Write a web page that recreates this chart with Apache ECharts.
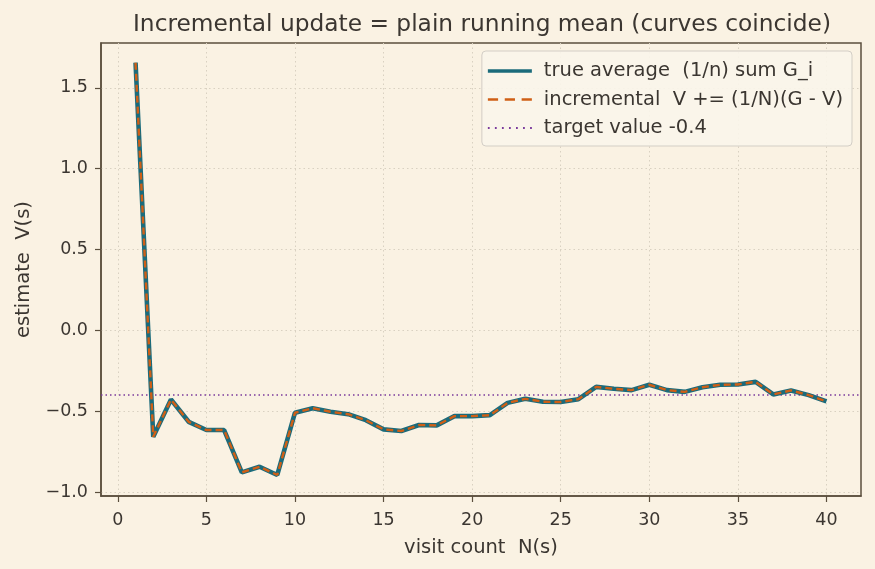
<!DOCTYPE html>
<html>
<head>
<meta charset="utf-8">
<script src="https://cdn.jsdelivr.net/npm/echarts@6/dist/echarts.min.js"></script>
<style>
html,body{margin:0;padding:0;background:#faf2e3;}
#c{width:875px;height:569px;}
</style>
</head>
<body>
<div id="c"></div>
<script>
var visits = [1,2,3,4,5,6,7,8,9,10,11,12,13,14,15,16,17,18,19,20,21,22,23,24,25,26,27,28,29,30,31,32,33,34,35,36,37,38,39,40];
var trueAverage = [1.655,-0.659,-0.428,-0.566,-0.617,-0.617,-0.879,-0.844,-0.895,-0.510,-0.482,-0.504,-0.519,-0.556,-0.613,-0.623,-0.586,-0.588,-0.531,-0.531,-0.525,-0.449,-0.424,-0.442,-0.444,-0.426,-0.350,-0.362,-0.370,-0.337,-0.370,-0.381,-0.352,-0.337,-0.335,-0.319,-0.397,-0.372,-0.401,-0.440];
var incremental = trueAverage.slice();
var targetValue = -0.4;
var xTicks = [0,5,10,15,20,25,30,35,40];
var yTicks = [-1.0,-0.5,0.0,0.5,1.0,1.5];

var FONT = 'DejaVu Sans';
var TXT = '#3b3631';
var SPINE = '#5b4f3e';
var GRIDC = '#d9d1c1';
var C_TRUE = '#1b6b7b', C_INC = '#cf5f16', C_TGT = '#7a3a9c';

function pairs(xs, ys){ return xs.map(function(x,i){ return [x, ys[i]]; }); }

var chart = echarts.init(document.getElementById('c'), null, {renderer:'canvas'});
chart.setOption({
  backgroundColor: '#faf2e3',
  animation: false,
  textStyle: {fontFamily: FONT, color: TXT},
  title: {
    text: 'Incremental update = plain running mean (curves coincide)',
    left: 477, top: 8, textAlign: 'center',
    textStyle: {fontFamily: FONT, fontSize: 23.3, fontWeight: 'normal', color: TXT}
  },
  grid: {left: 101, right: 14, top: 43, bottom: 73, show: true, borderColor: SPINE, borderWidth: 1.5, backgroundColor: 'transparent', containLabel: false, outerBoundsMode: 'none'},
  legend: {
    orient: 'vertical', right: 23, top: 51,
    padding: [10, 9, 8, 6],
    itemGap: 8.5, itemWidth: 44, itemHeight: 20,
    backgroundColor: 'rgba(250,245,234,0.9)',
    borderColor: '#d3cec6', borderWidth: 1, borderRadius: 4,
    textStyle: {fontFamily: FONT, fontSize: 19.5, color: TXT, lineHeight: 20, padding: [0,0,0,7]},
    data: [
      {name: 'true average  (1/n) sum G_i', icon: 'path://M0,0 L44,0 L44,3.5 L0,3.5 Z', itemStyle: {color: C_TRUE}},
      {name: 'incremental  V += (1/N)(G - V)', icon: 'path://M0,0 h10 v2.2 h-10 Z M16.5,0 h10 v2.2 h-10 Z M33,0 h10 v2.2 h-10 Z', itemStyle: {color: C_INC}},
      {name: 'target value -0.4', icon: 'path://M0,0 h1.6 v1.6 h-1.6 Z M6.3,0 h1.6 v1.6 h-1.6 Z M12.6,0 h1.6 v1.6 h-1.6 Z M18.9,0 h1.6 v1.6 h-1.6 Z M25.2,0 h1.6 v1.6 h-1.6 Z M31.5,0 h1.6 v1.6 h-1.6 Z M37.8,0 h1.6 v1.6 h-1.6 Z', itemStyle: {color: C_TGT}}
    ]
  },
  xAxis: {
    type: 'value', min: -0.95, max: 41.95,
    name: 'visit count  N(s)', nameLocation: 'middle', nameGap: 42,
    nameTextStyle: {fontFamily: FONT, fontSize: 19.5, color: TXT},
    axisLine: {show: true, onZero: false, lineStyle: {color: SPINE, width: 1.5}},
    axisTick: {show: true, length: 6, lineStyle: {color: SPINE, width: 1.2}, customValues: xTicks},
    axisLabel: {fontFamily: FONT, fontSize: 17.5, color: TXT, margin: 15, customValues: xTicks, formatter: function(v){return String(v);}},
    splitLine: {show: true, lineStyle: {color: GRIDC, type: [1.5, 3], width: 1}}
  },
  yAxis: {
    type: 'value', min: -1.025, max: 1.777,
    name: 'estimate  V(s)', nameLocation: 'middle', nameGap: 67, nameRotate: 90,
    nameTextStyle: {fontFamily: FONT, fontSize: 19.5, color: TXT},
    axisLine: {show: true, onZero: false, lineStyle: {color: SPINE, width: 1.5}},
    axisTick: {show: true, length: 6, lineStyle: {color: SPINE, width: 1.2}, customValues: yTicks},
    axisLabel: {fontFamily: FONT, fontSize: 17.5, color: TXT, margin: 13, customValues: yTicks,
      formatter: function(v){ var s = Math.abs(v).toFixed(1); return (v < -1e-9 ? '\u2212' : '') + s; }},
    splitLine: {show: true, lineStyle: {color: GRIDC, type: [1.5, 3], width: 1}}
  },
  series: [
    {
      name: 'true average  (1/n) sum G_i', type: 'line', symbol: 'none', z: 3,
      data: pairs(visits, trueAverage),
      lineStyle: {color: C_TRUE, width: 4.6}, itemStyle: {color: C_TRUE}
    },
    {
      name: 'incremental  V += (1/N)(G - V)', type: 'line', symbol: 'none', z: 4,
      data: pairs(visits, incremental),
      lineStyle: {color: C_INC, width: 2.4, type: [7, 4]}, itemStyle: {color: C_INC}
    },
    {
      name: 'target value -0.4', type: 'line', symbol: 'none', z: 2,
      data: [[-0.95, targetValue], [41.95, targetValue]],
      lineStyle: {color: C_TGT, width: 1.6, type: [1.5, 3]}, itemStyle: {color: C_TGT}
    }
  ]
});
</script>
</body>
</html>
